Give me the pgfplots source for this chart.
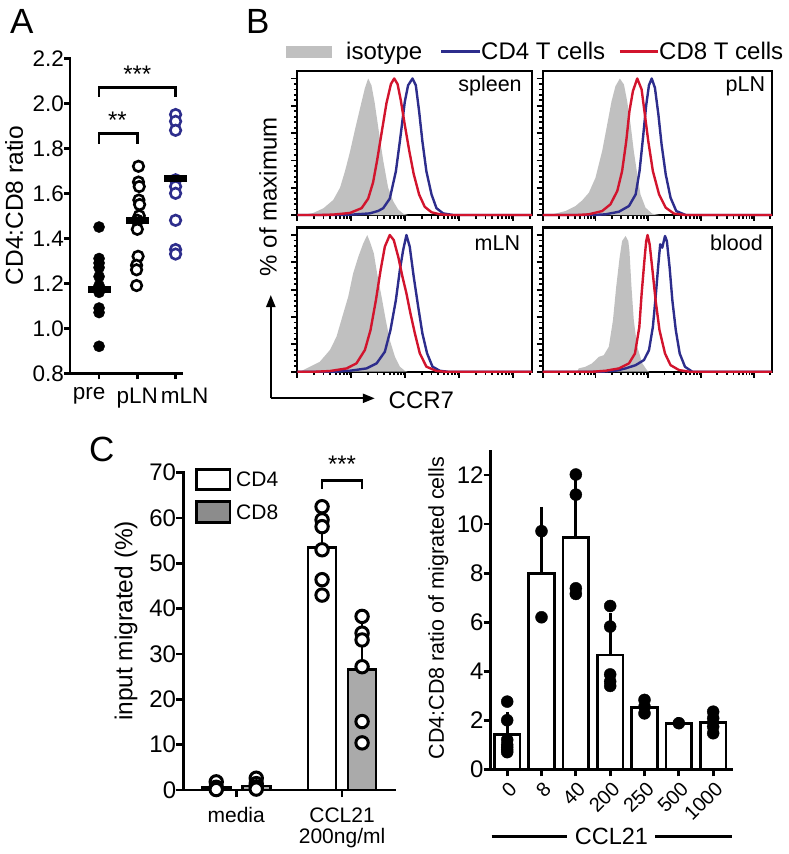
\documentclass[border=0pt]{standalone}
\usepackage{pgfplots}
\pgfplotsset{compat=1.18}
\usepackage{fontspec}
\setmainfont{Liberation Sans}
\usetikzlibrary{arrows.meta}
\newcommand\fs[1]{\fontsize{#1}{#1}\selectfont}
\definecolor{navy}{RGB}{45,45,140}
\definecolor{cred}{RGB}{210,20,45}
\definecolor{isog}{RGB}{192,192,192}
\definecolor{bargray}{RGB}{170,170,170}
\definecolor{leggray}{RGB}{140,140,140}
\pgfplotsset{
  spine/.style={scale only axis, axis lines*=left, tick align=outside,
    axis line style={line width=2.8pt, line cap=rect},
    every tick/.style={black, line width=2.8pt},
    major tick length=7pt, clip=false,
    /pgf/number format/assume math mode=true,
    yticklabel style={inner sep=0pt},
  },
  histax/.style={scale only axis, xmin=0, xmax=100, ymin=0, ymax=105.5,
    axis line style={line width=2.3pt},
    tick pos=left, tick align=outside,
    xtick={0,23,46,69,92},
    minor xtick={7.04,11.16,14.09,16.36,18.2,19.77,21.13,22.3,30.04,34.16,37.09,39.36,41.2,42.77,44.13,45.3,53.04,57.16,60.09,62.36,64.2,65.77,67.13,68.3,76.04,80.16,83.09,85.36,87.2,88.77,90.13,91.3,99.04},
    ytick={0,20,40,60,80,100}, minor y tick num=4,
    xticklabels={}, yticklabels={},
    major tick length=6pt, minor tick length=3.5pt,
    every tick/.style={black, line width=1.8pt},
    clip=false,
  },
  gfill/.style={fill=isog, draw=none},
  bline/.style={navy, line width=2.4pt, line join=round},
  rline/.style={cred, line width=2.4pt, line join=round},
}
\begin{document}
\begin{tikzpicture}
\useasboundingbox (0pt,0pt) rectangle (789pt,-854pt);

% ---------------- Panel A ----------------
\node[anchor=base west, inner sep=0pt, font=\fs{35}] at (10pt,-33pt) {A};
\begin{axis}[spine, at={(70pt,-373.3pt)}, anchor=south west,
  width=111.7pt, height=315pt,
  major tick length=6pt,
  xmin=0.24, xmax=3.16, ymin=0.8, ymax=2.2,
  xtick={1,2,3}, xticklabels={{pre\kern20pt},pLN,{\kern18pt mLN}},
  xticklabel style={yshift=-5pt},
  ytick={0.8,1.0,...,2.2},
  yticklabel style={/pgf/number format/fixed, /pgf/number format/fixed zerofill, /pgf/number format/precision=1},
  ticklabel style={font=\fs{22.5}},
]
\addplot[only marks, mark=*, mark size=5.6pt, mark options={fill=black, draw=black}]
  coordinates {(1,1.45)(1,1.31)(1,1.29)(1,1.27)(1,1.23)(1,1.19)(1,1.16)(1,1.09)(1,1.07)(1,0.92)};
\addplot[only marks, mark=*, mark size=5.3pt, mark options={fill=white, draw=black, line width=2.6pt}]
  coordinates {(2.03,1.72)(2.03,1.65)(2.05,1.63)(2.04,1.57)(2.06,1.55)(2.05,1.50)(2,1.48)(2,1.44)(2.02,1.32)(1.98,1.28)(1.98,1.26)(1.98,1.19)};
\addplot[only marks, mark=*, mark size=5.3pt, mark options={fill=white, draw=navy, line width=2.6pt}]
  coordinates {(3,1.95)(3,1.92)(3,1.88)(3,1.66)(3,1.63)(3,1.60)(3,1.48)(3,1.35)(3,1.33)};
\addplot[only marks, mark=-, mark size=11.5pt, mark options={line width=7pt, draw=black}]
  coordinates {(1,1.172)(2,1.481)(3,1.664)};
\draw[line width=2.6pt] (axis cs:1,2.03) -- (axis cs:1,2.071) -- (axis cs:3,2.071) -- (axis cs:3,2.03);
\node[font=\fs{24}] at (axis cs:2,2.13) {***};
\draw[line width=2.6pt] (axis cs:1,1.82) -- (axis cs:1,1.867) -- (axis cs:2,1.867) -- (axis cs:2,1.82);
\node[font=\fs{24}] at (axis cs:1.48,1.925) {**};
\end{axis}
\node[rotate=90, font=\fs{24.5}, inner sep=0pt] at (14pt,-205.7pt) {CD4:CD8 ratio};

% ---------------- Panel B ----------------
\node[anchor=base west, inner sep=0pt, font=\fs{35}] at (246pt,-33pt) {B};
\fill[isog] (285.5pt,-45.5pt) rectangle (331.7pt,-57.5pt);
\node[anchor=base west, inner sep=0pt, font=\fs{24}] at (346pt,-59.5pt) {isotype};
\draw[navy, line width=3pt] (441pt,-51.7pt) -- (480pt,-51.7pt);
\node[anchor=base west, inner sep=0pt, font=\fs{24}] at (481pt,-59.5pt) {CD4 T cells};
\draw[cred, line width=3pt] (619.8pt,-51.7pt) -- (658pt,-51.7pt);
\node[anchor=base west, inner sep=0pt, font=\fs{24}] at (659pt,-59.5pt) {CD8 T cells};

\begin{axis}[histax, at={(297.3pt,-215pt)}, anchor=south west, width=234.7pt, height=144pt]
\addplot[gfill] coordinates {(2.6,0)(6.8,1.5)(11.1,4.9)(15.3,11)(18.2,20)(20.3,32)(22.4,46)(24.5,62)(26.7,78)(28.8,93)(30.2,100)(31.6,95)(33.0,82)(34.5,64)(36.6,40)(38.7,20)(40.9,10)(43.0,4)(45.1,1)(47.2,0)} \closedcycle;
\addplot[bline] coordinates {(0,0)(20,0)(25.2,0.5)(30.9,1.2)(34.5,3)(36.6,5)(39.4,12)(42.0,32)(43.7,54)(45.8,83)(47.2,95)(49.1,100)(50.5,95)(51.9,76)(53.3,54)(55.0,32)(57.2,15)(59.3,5)(62.1,1.2)(66.4,0)(100,0)};
\addplot[rline] coordinates {(0,0)(10,0)(15.3,0.3)(22.4,1.5)(27.4,5)(30.2,12)(32.3,24)(34.0,40)(35.9,60)(38.0,82)(39.9,96)(41.3,100)(42.7,96)(44.1,84)(45.8,66)(47.7,47)(49.6,30)(51.9,15)(54.3,6)(57.2,2)(60.7,0.5)(65,0)(100,0)};
\node[anchor=east, inner sep=0pt, font=\fs{21.5}] at (rel axis cs:0.957,0.895) {spleen};
\end{axis}

\begin{axis}[histax, at={(542.7pt,-215pt)}, anchor=south west, width=229.5pt, height=144pt]
\addplot[gfill] coordinates {(3,0)(5.5,1)(9.9,2.9)(14.3,6.6)(17.2,10.7)(20.1,16.3)(23.0,27.3)(25.9,46.8)(28.1,66.3)(30.0,83.4)(31.7,94.4)(33.6,100)(35.4,95.6)(36.8,83.4)(38.3,66.3)(39.7,46.8)(41.2,29.8)(42.6,15.1)(44.8,5.4)(47.7,1)(50.7,0)} \closedcycle;
\addplot[bline] coordinates {(0,0)(22,0)(27.4,0.5)(33.2,2.4)(37.6,6.6)(40.5,15.1)(42.2,32.2)(43.7,56.6)(45.1,80.5)(46.3,95.1)(47.5,100)(48.9,93.2)(50.4,73.7)(51.8,51.7)(53.6,29.8)(55.7,12.7)(58.2,2.9)(62.3,0)(100,0)};
\addplot[rline] coordinates {(0,0)(15,0)(20.1,0.5)(25.9,2.9)(29.5,7.8)(32.5,17.6)(34.6,32.2)(36.4,54.1)(37.8,76.1)(39.3,90.7)(41.2,100)(43.1,92)(44.5,73.7)(46.0,54.1)(48.0,32.2)(50.7,15.1)(53.6,5.4)(57.2,1)(62.3,0)(100,0)};
\node[anchor=east, inner sep=0pt, font=\fs{21.5}] at (rel axis cs:0.97,0.895) {pLN};
\end{axis}

\begin{axis}[histax, at={(297.3pt,-371.7pt)}, anchor=south west, width=234.7pt, height=144.2pt]
\addplot[gfill] coordinates {(1.1,0)(5.4,3.7)(9.6,7.3)(13.9,15.9)(16.7,25.6)(19.6,42.7)(21.7,54.9)(23.8,72)(26.0,84.1)(28.1,93.9)(29.8,100)(31.2,93.9)(32.6,86.6)(34.0,72)(35.9,54.9)(37.7,37.8)(39.4,23.2)(41.6,11)(43.7,3.7)(45.8,0.7)(47,0)} \closedcycle;
\addplot[bline] coordinates {(0,0)(16,0)(22.4,0.7)(29.5,2.4)(33.8,6.1)(37.3,14.6)(39.7,30.5)(42.0,52.4)(43.7,74.4)(45.1,89)(46.5,100)(47.9,91.5)(49.6,69.5)(51.5,47.6)(53.3,28)(55.3,13.4)(57.6,3.7)(60.7,0.7)(64,0)(100,0)};
\addplot[rline] coordinates {(0,0)(8,0)(13.9,0.5)(21.0,2.4)(25.2,6.1)(28.8,15.9)(31.2,30.5)(33.5,52.4)(35.5,74.4)(37.3,91.5)(39.4,100)(41.1,96.3)(43.0,84.1)(44.8,69.5)(46.5,57.3)(48.2,42.7)(50.1,28)(52.2,13.4)(55.0,3.7)(59.3,0.5)(63,0)(100,0)};
\node[anchor=east, inner sep=0pt, font=\fs{21.5}] at (rel axis cs:0.95,0.895) {mLN};
\end{axis}

\begin{axis}[histax, at={(542.7pt,-371.7pt)}, anchor=south west, width=229.5pt, height=144.2pt]
\addplot[gfill] coordinates {(15.0,0)(15.7,2.4)(18.6,3.6)(21.5,6.1)(24.5,10.9)(26.6,12.1)(28.8,18.2)(30.6,37.5)(32.0,61.7)(33.5,83.5)(34.6,95.6)(36.1,99.3)(37.3,95.6)(37.8,88.4)(38.7,61.7)(39.7,37.5)(41.2,18.2)(43.4,6.1)(45.6,0.7)(46.5,0)} \closedcycle;
\addplot[bline] coordinates {(0,0)(26,0)(31.7,0.7)(36.1,2.4)(40.5,4.8)(44.1,8.5)(46.3,15.7)(48.0,32.7)(49.2,54.5)(50.4,78.7)(51.2,93.2)(52.1,90.8)(53.3,99.3)(54.1,95.6)(55.3,76.3)(56.5,52.1)(58.0,30.3)(59.7,13.3)(62.0,3.6)(65.2,0)(100,0)};
\addplot[rline] coordinates {(0,0)(22,0)(27.4,0.7)(33.2,2.4)(37.6,6.1)(40.2,13.3)(42.1,32.7)(43.1,56.9)(44.3,81.1)(45.1,95.6)(45.7,100)(46.6,93.2)(47.7,76.3)(49.2,52.1)(50.9,30.3)(53.3,13.3)(55.7,4.8)(59.4,1.2)(63.8,0)(100,0)};
\node[anchor=east, inner sep=0pt, font=\fs{21.5}] at (rel axis cs:0.96,0.895) {blood};
\end{axis}

\node[rotate=90, font=\fs{24}] at (268pt,-196.7pt) {\% of maximum};
\draw[line width=2.2pt, -{Triangle[length=12pt, width=9pt]}] (270.8pt,-398.3pt) -- (270.8pt,-295pt);
\draw[line width=2.2pt, -{Triangle[length=12pt, width=9pt]}] (270.8pt,-398.3pt) -- (374.8pt,-398.3pt);
\node[anchor=west, inner sep=0pt, font=\fs{24}] at (388.5pt,-400pt) {CCR7};

% ---------------- Panel C left ----------------
\node[anchor=base west, inner sep=0pt, font=\fs{35}] at (89pt,-461pt) {C};
\begin{axis}[spine, at={(183.3pt,-790pt)}, anchor=south west,
  width=211.7pt, height=317.3pt,
  xmin=0.5, xmax=2.5, ymin=0, ymax=70,
  xtick={1,2}, xticklabels={media,{CCL21\\200ng/ml}},
  xticklabel style={align=center, font=\fs{21}, yshift=-7pt},
  ytick={0,10,...,70}, yticklabel style={font=\fs{24}},
  ylabel={input migrated (\%)}, ylabel style={font=\fs{24.5}, at={(axis description cs:-0.27,0.533)}, anchor=center},
]
\addplot[ybar, bar width=28pt, bar shift=0pt, fill=white, draw=black, line width=2.8pt,
  error bars/.cd, y dir=plus, y explicit, error bar style={line width=2.8pt},
  error mark options={line width=2.8pt, mark size=6pt}]
  coordinates {(0.811,0.5) +- (0,0) (1.811,53.5) +- (0,7.8)};
\addplot[ybar, bar width=28pt, bar shift=0pt, fill=bargray, draw=black, line width=2.8pt,
  error bars/.cd, y dir=plus, y explicit, error bar style={line width=2.8pt},
  error mark options={line width=2.8pt, mark size=6pt}]
  coordinates {(1.189,0.9) +- (0,0) (2.189,26.5) +- (0,11.3)};
\addplot[only marks, mark=*, mark size=6.2pt, mark options={fill=white, draw=black, line width=3pt}]
  coordinates {(0.811,1.8)(0.811,0.6)(0.811,0.3)(0.811,0.1)(1.189,2.6)(1.189,1.4)(1.189,0.7)(1.189,0.2)
  (1.811,62.5)(1.811,59.6)(1.811,58.1)(1.811,53.0)(1.811,46.4)(1.811,43.0)
  (2.189,38.3)(2.189,34.6)(2.189,33.1)(2.189,27.2)(2.189,15.1)(2.189,10.4)};
\draw[line width=2.8pt] (axis cs:1.811,66.5) -- (axis cs:1.811,68.3) -- (axis cs:2.189,68.3) -- (axis cs:2.189,66.5);
\node[font=\fs{24}] at (axis cs:2,71.8) {***};
\end{axis}
\draw[line width=2.8pt, fill=white] (196.7pt,-469.3pt) rectangle (230pt,-489.3pt);
\draw[line width=2.8pt, fill=leggray] (196.7pt,-501.7pt) rectangle (230pt,-522.7pt);
\node[anchor=west, inner sep=0pt, font=\fs{21}] at (236pt,-479.3pt) {CD4};
\node[anchor=west, inner sep=0pt, font=\fs{21}] at (236pt,-512.2pt) {CD8};

% ---------------- Panel C right ----------------
\begin{axis}[spine, at={(490.7pt,-769.3pt)}, anchor=south west,
  width=241pt, height=317.6pt,
  xmin=-0.48, xmax=6.54, ymin=0, ymax=12.95,
  xtick={0,1,2,3,4,5,6}, xticklabels={0,8,40,200,250,500,1000},
  xticklabel style={xshift=6pt, yshift=-9pt, rotate=45, anchor=east, font=\fs{20}, inner sep=0pt},
  ytick={0,2,...,12}, yticklabel style={font=\fs{24}},
  ylabel={CD4:CD8 ratio of migrated cells}, ylabel style={font=\fs{21.5}, at={(axis description cs:-0.217,0.508)}, anchor=center},
]
\addplot[ybar, bar width=25.5pt, bar shift=0pt, fill=white, draw=black, line width=2.8pt,
  error bars/.cd, y dir=plus, y explicit, error bar style={line width=2.8pt},
  error mark options={line width=2.8pt, mark size=6pt}]
  coordinates {(0,1.43) +- (0,0.67) (1,7.99) +- (0,2.47) (2,9.46) +- (0,2.34) (3,4.66) +- (0,1.47) (4,2.53) +- (0,0.2) (5,1.88) +- (0,0) (6,1.92) +- (0,0.3)};
\addplot[only marks, mark=*, mark size=6pt, mark options={fill=black, draw=black}]
  coordinates {(0,2.76)(0,2.0)(0,1.2)(0,1.0)(0,0.9)(0,0.8)(0,0.7)
  (1,9.71)(1,6.2)
  (2,12.02)(2,11.2)(2,7.38)(2,7.15)
  (3,6.66)(3,5.82)(3,3.87)(3,3.58)(3,3.4)
  (4,2.83)(4,2.55)(4,2.28)
  (5,1.88)
  (6,2.35)(6,2.08)(6,1.74)(6,1.47)};
\end{axis}
\draw[line width=2.8pt] (491.7pt,-836.7pt) -- (566.7pt,-836.7pt);
\draw[line width=2.8pt] (655pt,-836.7pt) -- (731.7pt,-836.7pt);
\node[font=\fs{23.5}, inner sep=0pt] at (611.5pt,-836.7pt) {CCL21};
\end{tikzpicture}
\end{document}
